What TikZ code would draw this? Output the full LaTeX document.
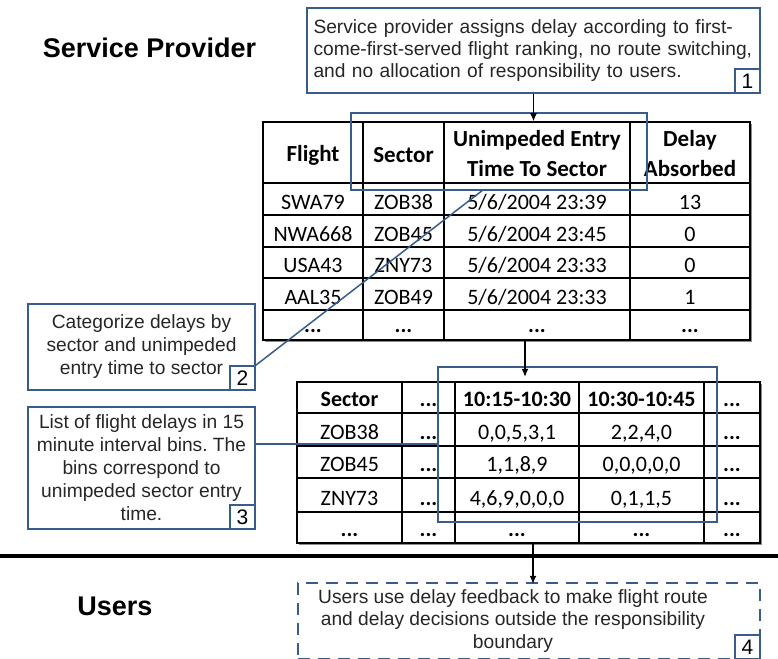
\documentclass[tikz,border=0pt]{standalone}
\usepackage{fontspec}
\setmainfont{Liberation Sans}
\newfontfamily\tablefont{Carlito}
\usetikzlibrary{arrows.meta,shadows}
\definecolor{noteblue}{RGB}{56,93,138}
\frenchspacing

\tikzset{
  note/.style={draw=noteblue, line width=1.5pt, inner sep=0pt, align=center, text=black!85,
    font=\fontsize{19.2}{23}\selectfont},
  numbox/.style={draw=noteblue, line width=1.5pt, fill=white, minimum width=25pt, minimum height=24pt,
    inner sep=0pt, anchor=south east, font=\fontsize{21}{21}\selectfont},
  cell/.style={inner sep=0pt, anchor=base, font=\tablefont\fontsize{22}{22}\selectfont},
  headcell/.style={inner sep=0pt, align=center, font=\tablefont\bfseries\fontsize{23}{30}\selectfont},
  grid/.style={line width=1.1pt},
  tableframe/.style={draw, line width=1.6pt, fill=white, inner sep=0pt,
    drop shadow={shadow xshift=2pt, shadow yshift=-2pt, fill=black!45, opacity=1}},
  highlight/.style={draw=noteblue, line width=1.5pt, inner sep=0pt},
  title/.style={font=\fontsize{27}{27}\selectfont\bfseries}
}

\begin{document}
\begin{tikzpicture}[x=1pt, y=-1pt, >={Latex[length=8pt,width=7pt]}]
	\useasboundingbox (0,0) rectangle (778,658);

	\node[title] (provider) at (149.5,48) {Service Provider};
	\node[title] (users) at (115,606) {Users};

	% notes
	\node[note, align=left, minimum width=453pt, minimum height=85pt, text width=440pt,
		font=\fontsize{19.2}{21.7}\selectfont] (note1) at (533.5,50.5)
		{Service provider assigns delay according to first-\\come-first-served flight ranking, no route switching,\\and no allocation of responsibility to users.};
	\node[numbox] (num1) at (note1.south east) {1};
	\node[note, minimum width=227pt, minimum height=86pt] (note2) at (141.5,347)
		{Categorize delays by\\sector and unimpeded\\entry time to sector};
	\node[numbox] (num2) at (note2.south east) {2};
	\node[note, minimum width=227pt, minimum height=122pt] (note3) at (141.5,468)
		{List of flight delays in 15\\minute interval bins. The\\bins correspond to\\unimpeded sector entry\\time.};
	\node[numbox] (num3) at (note3.south east) {3};
	\node[note, dash pattern=on 12pt off 8pt, minimum width=462pt, minimum height=76pt] (note4) at (529,621) {};
	\node[align=center, text=black!85, font=\fontsize{19.2}{22.5}\selectfont] (note4text) at (513,621)
		{Users use delay feedback to make flight route\\and delay decisions outside the responsibility\\boundary};
	\node[numbox] (num4) at (note4.south east) {4};

	% flight table
	\node[tableframe, minimum width=487pt, minimum height=218pt] (tab1) at (506.5,231) {};
	\draw[grid] (363,122) -- (363,340) (444,122) -- (444,340) (630,122) -- (630,340)
		(263,183) -- (750,183) (263,215) -- (750,215) (263,247) -- (750,247)
		(263,278) -- (750,278) (263,310) -- (750,310);
	\node[headcell] (t1-0-1) at (313,155) {Flight};
	\node[headcell] (t1-0-2) at (403.5,155) {Sector};
	\node[headcell] (t1-0-3) at (537,154) {Unimpeded Entry\\Time To Sector};
	\node[headcell] (t1-0-4) at (690,154) {Delay\\Absorbed};
	\node[cell] (t1-1-1) at (313,209) {SWA79}; \node[cell] (t1-1-2) at (403.5,209) {ZOB38};
	\node[cell] (t1-1-3) at (537,209) {5/6/2004 23:39}; \node[cell] (t1-1-4) at (690,209) {13};
	\node[cell] (t1-2-1) at (313,241) {NWA668}; \node[cell] (t1-2-2) at (403.5,241) {ZOB45};
	\node[cell] (t1-2-3) at (537,241) {5/6/2004 23:45}; \node[cell] (t1-2-4) at (690,241) {0};
	\node[cell] (t1-3-1) at (313,272) {USA43}; \node[cell] (t1-3-2) at (403.5,272) {ZNY73};
	\node[cell] (t1-3-3) at (537,272) {5/6/2004 23:33}; \node[cell] (t1-3-4) at (690,272) {0};
	\node[cell] (t1-4-1) at (313,304) {AAL35}; \node[cell] (t1-4-2) at (403.5,304) {ZOB49};
	\node[cell] (t1-4-3) at (537,304) {5/6/2004 23:33}; \node[cell] (t1-4-4) at (690,304) {1};
	\node[cell] (t1-5-1) at (313,332) {\bfseries ...}; \node[cell] (t1-5-2) at (403.5,332) {\bfseries ...};
	\node[cell] (t1-5-3) at (537,332) {\bfseries ...}; \node[cell] (t1-5-4) at (690,332) {\bfseries ...};

	% bin table
	\node[tableframe, minimum width=463pt, minimum height=161pt] (tab2) at (528.5,462.5) {};
	\draw[grid] (402,382) -- (402,543) (455,382) -- (455,543) (579,382) -- (579,543) (704,382) -- (704,543)
		(297,413) -- (760,413) (297,446) -- (760,446) (297,478) -- (760,478) (297,512) -- (760,512);
	\node[cell, font=\tablefont\bfseries\fontsize{22}{22}\selectfont] (t2-0-1) at (349.5,406) {Sector};
	\node[cell, font=\tablefont\bfseries\fontsize{22}{22}\selectfont] (t2-0-2) at (428.5,406) {...};
	\node[cell, font=\tablefont\bfseries\fontsize{22}{22}\selectfont] (t2-0-3) at (517,406) {10:15-10:30};
	\node[cell, font=\tablefont\bfseries\fontsize{22}{22}\selectfont] (t2-0-4) at (641.5,406) {10:30-10:45};
	\node[cell, font=\tablefont\bfseries\fontsize{22}{22}\selectfont] (t2-0-5) at (732,406) {...};
	\node[cell] (t2-1-1) at (349.5,439) {ZOB38}; \node[cell] (t2-1-2) at (428.5,439) {\bfseries ...};
	\node[cell] (t2-1-3) at (517,439) {0,0,5,3,1}; \node[cell] (t2-1-4) at (641.5,439) {2,2,4,0};
	\node[cell] (t2-1-5) at (732,439) {\bfseries ...};
	\node[cell] (t2-2-1) at (349.5,471) {ZOB45}; \node[cell] (t2-2-2) at (428.5,471) {\bfseries ...};
	\node[cell] (t2-2-3) at (517,471) {1,1,8,9}; \node[cell] (t2-2-4) at (641.5,471) {0,0,0,0,0};
	\node[cell] (t2-2-5) at (732,471) {\bfseries ...};
	\node[cell] (t2-3-1) at (349.5,505) {ZNY73}; \node[cell] (t2-3-2) at (428.5,505) {\bfseries ...};
	\node[cell] (t2-3-3) at (517,505) {4,6,9,0,0,0}; \node[cell] (t2-3-4) at (641.5,505) {0,1,1,5};
	\node[cell] (t2-3-5) at (732,505) {\bfseries ...};
	\node[cell] (t2-4-1) at (349.5,536) {\bfseries ...}; \node[cell] (t2-4-2) at (428.5,536) {\bfseries ...};
	\node[cell] (t2-4-3) at (517,536) {\bfseries ...}; \node[cell] (t2-4-4) at (641.5,536) {\bfseries ...};
	\node[cell] (t2-4-5) at (732,536) {\bfseries ...};

	% highlights and links
	\node[highlight, minimum width=296pt, minimum height=77pt] (hl1) at (499,151.5) {};
	\node[highlight, minimum width=279pt, minimum height=155pt] (hl2) at (577.5,444.5) {};
	\draw[noteblue, line width=1.5pt] (num2.north east) -- ([xshift=-17pt]hl1.south);
	\coordinate (link3) at ([yshift=24pt]note3.east);
	\draw[noteblue, line width=1.5pt] (link3) -- (link3 -| hl2.west);

	\draw[->, line width=1.2pt] (note1.south) -- (note1.south |- tab1.north);
	\draw[->, line width=1.2pt] ([xshift=18.5pt]tab1.south) -- ++(0,36);
	\draw[->, line width=1.2pt] ([xshift=4.5pt]tab2.south) -- ++(0,40);

	\draw[line width=3.5pt] (0,556) -- (778,556);
\end{tikzpicture}
\end{document}
